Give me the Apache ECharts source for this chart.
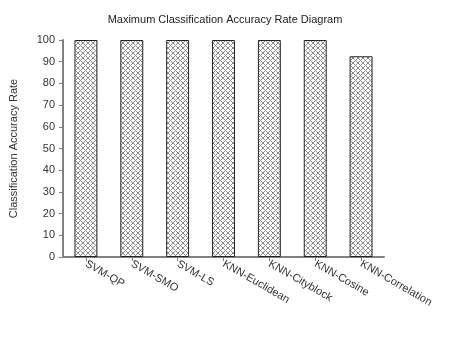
<!DOCTYPE html>
<html><head><meta charset="utf-8">
<script src="https://cdn.jsdelivr.net/npm/echarts@6/dist/echarts.min.js"></script>
<style>html,body{margin:0;padding:0;background:#fff}#c{width:455px;height:342px}</style>
</head><body><div id="c"></div>
<script>
const categories = ['SVM-QP','SVM-SMO','SVM-LS','KNN-Euclidean','KNN-Cityblock','KNN-Cosine','KNN-Correlation'];
const accuracy = [100,100,100,100,100,100,92.5];
const yTicks = [0,10,20,30,40,50,60,70,80,90,100];

const P = 5;
const pc = document.createElement('canvas');
pc.width = P; pc.height = P;
const g = pc.getContext('2d');
g.fillStyle = '#ffffff'; g.fillRect(0,0,P,P);
g.fillStyle = '#8c8c8c';
for (let x = 0; x < P; x++) for (let y = 0; y < P; y++) {
  if ((x - y + P) % P === 0 || (x + y) % P === 0) g.fillRect(x, y, 1, 1);
}

const chart = echarts.init(document.getElementById('c'));
chart.setOption({
  animation:false,
  title:{text:'Maximum Classification Accuracy Rate Diagram',left:220,textAlign:'center',top:9,
    textStyle:{fontFamily:'Liberation Sans',fontSize:11,fontWeight:'normal',color:'#222'}},
  grid:{left:62,right:71,top:40,bottom:85},
  xAxis:{type:'category',data:categories,
    axisLine:{lineStyle:{color:'#808080',width:2}},
    axisTick:{show:true,alignWithLabel:true,length:4,lineStyle:{color:'#808080'}},
    axisLabel:{rotate:-30,interval:0,fontFamily:'Liberation Sans',fontSize:11,color:'#333',margin:6}},
  yAxis:{type:'value',min:yTicks[0],max:yTicks[yTicks.length-1],interval:10,
    name:'Classification Accuracy Rate',nameLocation:'middle',nameGap:44,
    nameTextStyle:{fontFamily:'Liberation Sans',fontSize:11,color:'#333'},
    axisLine:{show:true,lineStyle:{color:'#808080',width:2}},
    axisTick:{show:true,length:4,lineStyle:{color:'#808080'}},
    splitLine:{show:false},
    axisLabel:{fontFamily:'Liberation Sans',fontSize:11,color:'#333',margin:8}},
  series:[{type:'bar',data:accuracy,barWidth:'50%',
    itemStyle:{color:{image:pc,repeat:'repeat'},borderColor:'#222',borderWidth:1}}]
});
</script></body></html>
